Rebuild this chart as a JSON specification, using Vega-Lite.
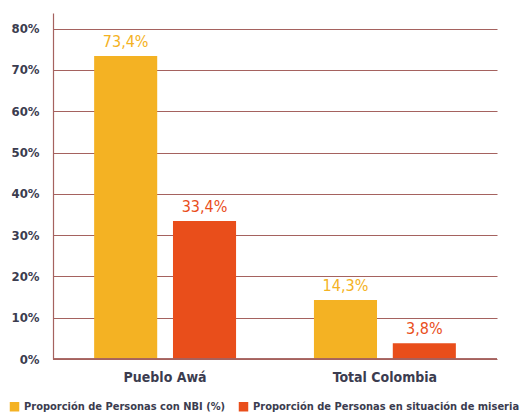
{
  "$schema": "https://vega.github.io/schema/vega-lite/v6.json",
  "autosize": "none",
  "width": 444,
  "height": 346,
  "padding": {"left": 53, "top": 13, "right": 25, "bottom": 59},
  "background": "white",
  "config": {
    "font": "DejaVu Sans Condensed, sans-serif",
    "locale": {"number": {"decimal": ",", "thousands": ".", "grouping": [3], "currency": ["", "€"]}},
    "view": {"stroke": null}
  },
  "data": {
    "values": [
      {"grupo": "Pueblo Awá", "serie": "Proporción de Personas con NBI (%)", "valor": 0.734},
      {"grupo": "Pueblo Awá", "serie": "Proporción de Personas en situación de miseria", "valor": 0.334},
      {"grupo": "Total Colombia", "serie": "Proporción de Personas con NBI (%)", "valor": 0.143},
      {"grupo": "Total Colombia", "serie": "Proporción de Personas en situación de miseria", "valor": 0.038}
    ]
  },
  "encoding": {
    "x": {
      "field": "grupo", "type": "nominal", "sort": null,
      "scale": {"paddingInner": 0.34, "paddingOuter": 0.18},
      "axis": {
        "title": null, "labelAngle": 0, "ticks": false, "domain": false,
        "labelFontSize": 14, "labelFontWeight": "bold", "labelColor": "#3b3c4f",
        "labelPadding": 11
      }
    },
    "xOffset": {
      "field": "serie", "type": "nominal", "sort": null,
      "scale": {"paddingInner": 0.2, "paddingOuter": 0.02}
    },
    "y": {
      "field": "valor", "type": "quantitative",
      "scale": {"domain": [0, 0.838], "nice": false},
      "axis": {
        "title": null, "values": [0, 0.1, 0.2, 0.3, 0.4, 0.5, 0.6, 0.7, 0.8],
        "format": ".0%", "ticks": false, "labelPadding": 14,
        "labelFontSize": 13, "labelFontWeight": "bold", "labelColor": "#3b3c4f",
        "domainColor": "#a5625f", "domainWidth": 1.2,
        "gridColor": "#a5625f", "gridWidth": 1.2, "gridOpacity": 1
      }
    },
    "color": {
      "field": "serie", "type": "nominal", "sort": null,
      "scale": {"range": ["#f4b223", "#e94e1b"]},
      "legend": {
        "title": null, "orient": "none", "legendX": -44, "legendY": 388,
        "direction": "horizontal", "columns": 2, "columnPadding": 12,
        "symbolType": "square", "symbolSize": 90, "symbolStrokeWidth": 0,
        "labelFontSize": 11, "labelFontWeight": "bold", "labelColor": "#3b3c4f",
        "labelLimit": 400, "labelOffset": 4
      }
    }
  },
  "layer": [
    {"mark": {"type": "bar"}},
    {
      "mark": {"type": "text", "baseline": "bottom", "dy": -6, "fontSize": 16},
      "encoding": {
        "text": {"field": "valor", "type": "quantitative", "format": ".1%"}
      }
    },
    {
      "mark": {"type": "rule", "color": "#a5625f", "strokeWidth": 1.2},
      "encoding": {"y": {"datum": 0}, "x": {"value": 0}, "x2": {"value": 444}, "xOffset": null, "color": null}
    }
  ]
}
